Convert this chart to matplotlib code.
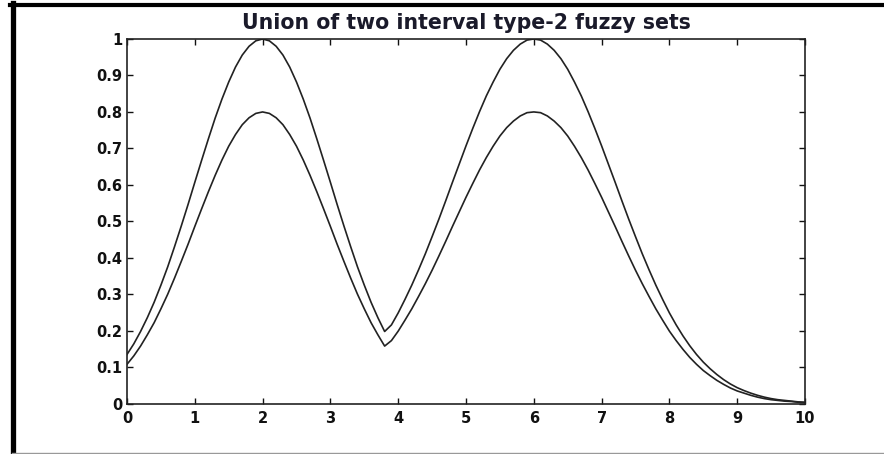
import matplotlib
matplotlib.use('Agg')
import matplotlib.pyplot as plt
from matplotlib.lines import Line2D

# values, x step 0.1
x = [i / 10 for i in range(101)]
upper = [0.135, 0.164, 0.198, 0.236, 0.278, 0.325, 0.375, 0.430, 0.487, 0.546,
         0.607, 0.667, 0.726, 0.783, 0.835, 0.882, 0.923, 0.956, 0.980, 0.995,
         1.000, 0.995, 0.980, 0.956, 0.923, 0.882, 0.835, 0.783, 0.726, 0.667,
         0.607, 0.546, 0.487, 0.430, 0.375, 0.325, 0.278, 0.236, 0.198, 0.216,
         0.249, 0.286, 0.325, 0.367, 0.411, 0.458, 0.506, 0.556, 0.607, 0.657,
         0.707, 0.755, 0.801, 0.844, 0.882, 0.917, 0.946, 0.969, 0.986, 0.997,
         1.000, 0.997, 0.986, 0.969, 0.946, 0.917, 0.882, 0.844, 0.801, 0.755,
         0.707, 0.657, 0.607, 0.556, 0.506, 0.458, 0.411, 0.367, 0.325, 0.286,
         0.249, 0.216, 0.186, 0.159, 0.135, 0.114, 0.096, 0.080, 0.066, 0.054,
         0.044, 0.036, 0.029, 0.023, 0.018, 0.014, 0.011, 0.009, 0.007, 0.005,
         0.004]
lower = [0.108, 0.131, 0.158, 0.189, 0.222, 0.260, 0.300, 0.344, 0.390, 0.437,
         0.486, 0.534, 0.581, 0.626, 0.668, 0.706, 0.738, 0.765, 0.784, 0.796,
         0.800, 0.796, 0.784, 0.765, 0.738, 0.706, 0.668, 0.626, 0.581, 0.534,
         0.486, 0.437, 0.390, 0.344, 0.300, 0.260, 0.222, 0.189, 0.158, 0.173,
         0.199, 0.229, 0.260, 0.294, 0.329, 0.366, 0.405, 0.445, 0.486, 0.526,
         0.566, 0.604, 0.641, 0.675, 0.706, 0.734, 0.757, 0.775, 0.789, 0.798,
         0.800, 0.798, 0.789, 0.775, 0.757, 0.734, 0.706, 0.675, 0.641, 0.604,
         0.566, 0.526, 0.486, 0.445, 0.405, 0.366, 0.329, 0.294, 0.260, 0.229,
         0.199, 0.173, 0.149, 0.127, 0.108, 0.091, 0.077, 0.064, 0.053, 0.043,
         0.035, 0.029, 0.023, 0.018, 0.014, 0.011, 0.009, 0.007, 0.006, 0.004,
         0.003]
xticks = list(range(11))
yticks = [i / 10 for i in range(11)]
ytick_labels = ['0', '0.1', '0.2', '0.3', '0.4', '0.5', '0.6', '0.7', '0.8',
                '0.9', '1']
title = 'Union of two interval type-2 fuzzy sets'

plt.rcParams['font.family'] = ['DejaVu Sans']

W, H = 884, 454
fig = plt.figure(figsize=(W / 100, H / 100), dpi=100)
ax = fig.add_axes([127 / W, 1 - 403.7 / H, (805 - 127) / W, (403.7 - 39) / H])

ax.plot(x, upper, color='#222222', lw=1.2)
ax.plot(x, lower, color='#222222', lw=1.2)

ax.set_xlim(0, 10)
ax.set_ylim(0, 1)
ax.set_xticks(xticks)
ax.set_yticks(yticks)
ax.set_yticklabels(ytick_labels)
ax.tick_params(direction='in', length=4, width=1, top=True, right=True,
               labelsize=10.5, colors='#111111')
ax.tick_params(axis='y', pad=3.5)
ax.tick_params(axis='x', pad=5)
for lab in ax.get_xticklabels() + ax.get_yticklabels():
    lab.set_fontweight('bold')
for sp in ax.spines.values():
    sp.set_linewidth(1.2)
    sp.set_color('#222222')
ax.set_title(title, fontsize=14.8, fontweight='bold', color='#1a1a2a', pad=7)

# outer frame of the scanned page
fig.add_artist(Line2D([12.5 / W, 12.5 / W], [0, 1 - 3 / H], color='black',
                      lw=3.8, transform=fig.transFigure))
fig.add_artist(Line2D([10 / W, 1], [1 - 4.7 / H, 1 - 4.7 / H], color='black',
                      lw=3.0, transform=fig.transFigure))
fig.add_artist(Line2D([12 / W, 1], [1 - 452.7 / H, 1 - 452.7 / H],
                      color='#999999', lw=1.0, transform=fig.transFigure))

fig.savefig('out.png', dpi=100)
